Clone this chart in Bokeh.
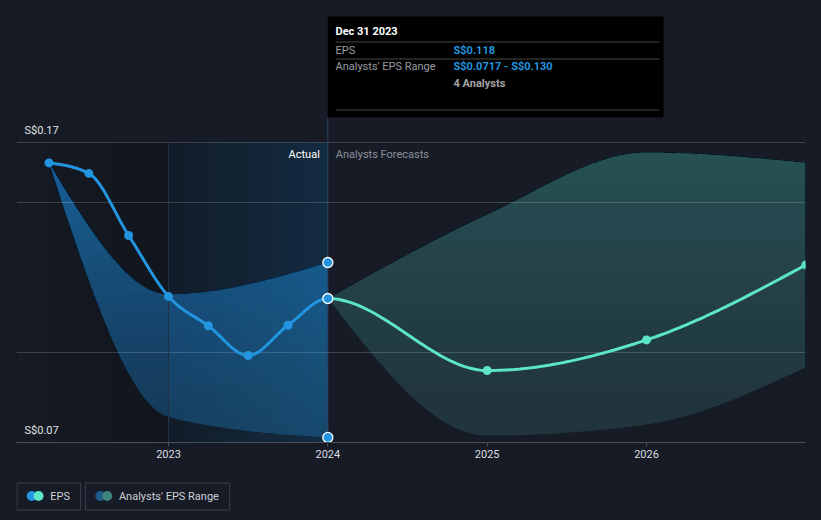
import numpy as np
from bokeh.plotting import figure
from bokeh.models import Range1d, FixedTicker, GlobalInlineStyleSheet
from bokeh.layouts import column
from bokeh.core.properties import value
from bokeh.embed import file_html
from bokeh.resources import INLINE

# ---------------- data ----------------
actual_dates = [2022.25, 2022.5, 2022.75, 2023.0, 2023.25, 2023.5, 2023.75, 2024.0]
actual_eps = [0.1632, 0.1597, 0.1390, 0.1187, 0.1089, 0.0990, 0.1091, 0.118]
actual_range_dates = [2022.25, 2023.0, 2024.0]
actual_range_high = [0.1632, 0.1194, 0.130]
actual_range_low = [0.1632, 0.0785, 0.0717]
forecast_dates = [2024.0, 2025.0, 2026.0, 2027.0]
forecast_eps = [0.118, 0.0940, 0.1042, 0.1292]
forecast_high = [0.118, 0.1460, 0.1667, 0.1633]
forecast_low = [0.118, 0.0723, 0.0760, 0.0950]
x_ticks = [2023, 2024, 2025, 2026]
x_tick_labels = ["2023", "2024", "2025", "2026"]
y_ticks = [0.07, 0.17]
y_tick_labels = ["S$0.07", "S$0.17"]
grid_values = [0.10, 0.15, 0.17]
highlight_start = 2023.0
split_date = 2024.0
tooltip_date = "Dec 31 2023"
tooltip_rows = ["EPS", "Analysts' EPS Range"]
tooltip_values = ["S$0.118", "S$0.0717 - S$0.130"]
tooltip_analysts = "4 Analysts"
section_labels = ["Actual", "Analysts Forecasts"]
legend_labels = ["EPS", "Analysts' EPS Range"]

# ---------------- style ----------------
BG = "#161b25"
BLUE = "#2394df"
MINT = "#5ce5c8"
TEAL = "#3a7571"
FONT = value("Roboto")

PX_PER_YEAR = 159.33
PX_PER_UNIT = 3000.0
W = 821
H_MAIN = 470
H_LEG = 50
# page geometry of the plot frame
F_LEFT, F_RIGHT, F_TOP, F_BOTTOM = 16, 805, 0, 442
REF_PX, REF_YEAR = 168, 2023.0

def px2x(px):
    return REF_YEAR + (px - REF_PX) / PX_PER_YEAR

def py2y(py):
    return y_ticks[0] + (F_BOTTOM - py) / PX_PER_UNIT

x0, x1 = px2x(F_LEFT), px2x(F_RIGHT)
y0, y1 = py2y(F_BOTTOM), py2y(F_TOP)


def monotone_curve(xs, ys, n=48):
    """Sample a d3-style monotone-X cubic through the given points."""
    xs = np.asarray(xs, float)
    ys = np.asarray(ys, float)
    m = len(xs)
    h = np.diff(xs)
    s = np.diff(ys) / h
    t = np.zeros(m)
    if m > 2:
        for i in range(1, m - 1):
            p_ = (s[i - 1] * h[i] + s[i] * h[i - 1]) / (h[i - 1] + h[i])
            t[i] = (np.sign(s[i - 1]) + np.sign(s[i])) * min(abs(s[i - 1]), abs(s[i]), 0.5 * abs(p_))
        t[0] = (3 * s[0] - t[1]) / 2
        t[-1] = (3 * s[-1] - t[-2]) / 2
    else:
        t[:] = s[0]
    ox, oy = [xs[0]], [ys[0]]
    u = np.linspace(0, 1, n + 1)[1:]
    h00 = 2 * u**3 - 3 * u**2 + 1
    h10 = u**3 - 2 * u**2 + u
    h01 = -2 * u**3 + 3 * u**2
    h11 = u**3 - u**2
    for i in range(m - 1):
        ox.extend(xs[i] + u * h[i])
        oy.extend(h00 * ys[i] + h10 * h[i] * t[i] + h01 * ys[i + 1] + h11 * h[i] * t[i + 1])
    return np.array(ox), np.array(oy)


def mix(c0, c1, f):
    return "#%02x%02x%02x" % tuple(int(round(a + (b - a) * f)) for a, b in zip(c0, c1))


p = figure(width=W, height=H_MAIN, x_range=Range1d(x0, x1), y_range=Range1d(y0, y1),
           x_axis_location="below", y_axis_location=None, toolbar_location=None,
           output_backend="svg", min_border_left=F_LEFT, min_border_right=W - F_RIGHT,
           min_border_top=F_TOP, min_border_bottom=H_MAIN - F_BOTTOM,
           background_fill_color=BG, border_fill_color=BG, outline_line_color=None)
p.center = []

# background shading: past region and highlighted last year
def strips(a, b, c0, c1, n):
    lefts, rights, cols = [], [], []
    for i in range(n):
        xa = a + (b - a) * i / n
        xb = a + (b - a) * (i + 1) / n
        lefts.append(xa)
        rights.append(xb + (0.004 if i < n - 1 else 0))
        cols.append(mix(c0, c1, (i + 0.5) / n))
    p.quad(left=lefts, right=rights, bottom=y_ticks[0], top=y_ticks[1],
           fill_color=cols, line_color=None)

strips(x0, highlight_start, (21, 26, 35), (17, 21, 29), 16)
strips(highlight_start, split_date, (18, 28, 40), (19, 43, 66), 20)

# gradient bands: nested layers, each covering the band above a threshold
def gradient_band(xs, lo, hi, color, a_bot, a_top, n=30):
    edges = np.linspace(y_ticks[0], y_ticks[1], n + 1)
    prev = 0.0
    for k in range(n):
        e0 = edges[k]
        target = a_bot + (a_top - a_bot) * (k + 0.5) / n
        a = 1 - (1 - target) / (1 - prev)
        prev = target
        ya = np.maximum(lo, e0) if k > 0 else np.asarray(lo)
        yb = np.maximum(hi, ya)
        if np.all(yb - ya <= 1e-12):
            continue
        p.varea(x=xs, y1=ya, y2=yb, fill_color=color, fill_alpha=a)

ax_, ahi = monotone_curve(actual_range_dates, actual_range_high)
_, alo = monotone_curve(actual_range_dates, actual_range_low)
gradient_band(ax_, alo, ahi, BLUE, 0.28, 0.70)

fx_, fhi = monotone_curve(forecast_dates, forecast_high)
_, flo = monotone_curve(forecast_dates, forecast_low)
gradient_band(fx_, flo, fhi, TEAL, 0.30, 0.72)

# grid lines
p.segment(x0=[x0] * len(grid_values), x1=[x1] * len(grid_values), y0=grid_values, y1=grid_values,
          line_color="#ffffff", line_alpha=0.17, line_width=1)

# vertical markers
p.segment(x0=[highlight_start], x1=[highlight_start], y0=[y_ticks[0]], y1=[y_ticks[1]],
          line_color="#1f3247", line_width=1)
p.segment(x0=[split_date], x1=[split_date], y0=[y_ticks[0]], y1=[py2y(117)],
          line_color="#2b4a66", line_width=1)

# EPS line: one monotone curve, coloured by actual / forecast
all_x = actual_dates + forecast_dates[1:]
all_y = actual_eps + forecast_eps[1:]
ex, ey = monotone_curve(all_x, all_y)
m_a = ex <= split_date + 1e-9
m_f = ex >= split_date - 1e-9
p.line(ex[m_a], ey[m_a], line_color=BLUE, line_width=3)
p.line(ex[m_f], ey[m_f], line_color=MINT, line_width=3)
p.scatter(actual_dates[:-1], actual_eps[:-1], size=9, fill_color=BLUE, line_color=None)
p.scatter(forecast_dates[1:], forecast_eps[1:], size=9, fill_color=MINT, line_color=None)
p.scatter([split_date] * 3, [actual_eps[-1], actual_range_high[-1], actual_range_low[-1]],
          size=10, fill_color=BLUE, line_color="white", line_width=1.3)

# y labels (inside, above grid lines)
p.text(x=[x0] * len(y_ticks), y=y_ticks, text=y_tick_labels, x_offset=8, y_offset=-12,
       text_font=FONT, text_font_size="11px", text_color="#e1e3e6", text_baseline="middle")

# section labels
p.text(x=[split_date], y=[py2y(154)], text=[section_labels[0]], x_offset=-8,
       text_font=FONT, text_font_size="11px", text_color="#ffffff",
       text_align="right", text_baseline="middle")
p.text(x=[split_date], y=[py2y(154)], text=[section_labels[1]], x_offset=8,
       text_font=FONT, text_font_size="11px", text_color="#8c9099",
       text_align="left", text_baseline="middle")

# tooltip
p.quad(left=[split_date], right=[px2x(663)], top=[py2y(16)], bottom=[py2y(117)],
       fill_color="#000000", line_color=None)
p.segment(x0=[px2x(335)] * 3, x1=[px2x(659)] * 3, y0=[py2y(41.5), py2y(58.5), py2y(109.5)],
          y1=[py2y(41.5), py2y(58.5), py2y(109.5)], line_color="#474747", line_width=1)
p.text(x=[px2x(335)], y=[py2y(31)], text=[tooltip_date], text_font=FONT, text_font_size="11px",
       text_font_style="bold", text_color="#ffffff", text_baseline="middle")
p.text(x=[px2x(335)] * 2, y=[py2y(49.5), py2y(66)], text=tooltip_rows, text_font=FONT,
       text_font_size="11px", text_color="#9a9da3", text_baseline="middle")
p.text(x=[px2x(453)] * 2, y=[py2y(49.5), py2y(66)], text=tooltip_values, text_font=FONT,
       text_font_size="11px", text_font_style="bold", text_color=BLUE, text_baseline="middle")
p.text(x=[px2x(453)], y=[py2y(83)], text=[tooltip_analysts], text_font=FONT,
       text_font_size="11px", text_font_style="bold", text_color="#a3a3a3", text_baseline="middle")

# x axis
ax = p.xaxis[0]
ax.ticker = FixedTicker(ticks=x_ticks, minor_ticks=[])
ax.major_label_overrides = dict(zip(x_ticks, x_tick_labels))
ax.axis_line_color = "#4a4f5a"
ax.major_tick_line_color = "#4a4f5a"
ax.minor_tick_line_color = None
ax.major_tick_in = 0
ax.major_tick_out = 4
ax.major_label_standoff = 3
ax.major_label_text_font = "Roboto"
ax.major_label_text_font_size = "11px"
ax.major_label_text_color = "#dcdee2"

# legend (separate strip, page coordinates; frame starts at x=16 like the main plot)
LEG_LEFT = 16
leg = figure(width=W, height=H_LEG, x_range=Range1d(LEG_LEFT, W),
             y_range=Range1d(H_MAIN + H_LEG, H_MAIN),
             x_axis_location=None, y_axis_location=None, toolbar_location=None,
             output_backend="svg", min_border=0, min_border_left=LEG_LEFT, min_border_right=0,
             min_border_top=0, min_border_bottom=0, background_fill_color=BG,
             border_fill_color=BG, outline_line_color=None)
leg.center = []
box_left = [16.5, 86.5]
box_right = [81.5, 233.5]
leg.quad(left=box_left, right=box_right, top=[482.5] * 2, bottom=[509.5] * 2,
         fill_color=None, line_color="#3b414d", line_width=1)
leg.scatter([31.5, 101.5], [495.5] * 2, size=10, fill_color=[BLUE, "#1f5c8a"], line_color=None)
leg.scatter([38.5, 108.5], [495.5] * 2, size=10, fill_color=[MINT, "#3e8580"], line_color=None)
leg.text(x=[50.5, 120.5], y=[495.5] * 2, text=legend_labels, text_font=FONT,
         text_font_size="11px", text_color="#cdd0d5", text_baseline="middle")

layout = column(p, leg, spacing=0,
                stylesheets=[GlobalInlineStyleSheet(css="body { background-color: #161b25; }")])

open("out.html", "w").write(file_html(layout, INLINE))
